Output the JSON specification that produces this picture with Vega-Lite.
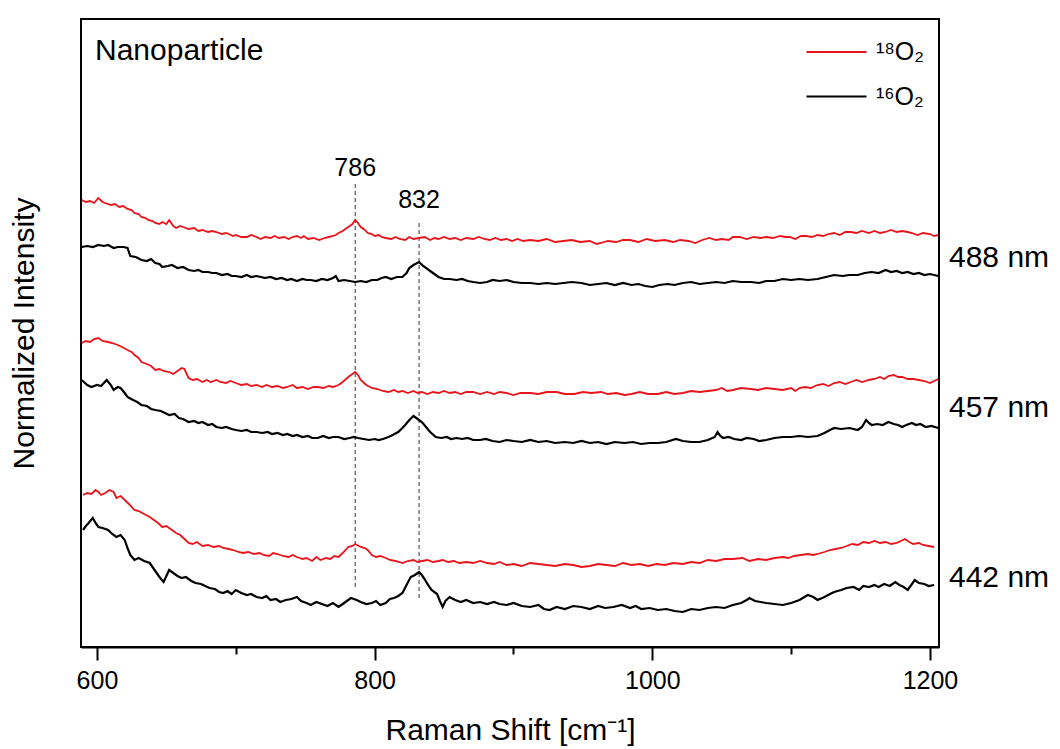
{
  "$schema": "https://vega.github.io/schema/vega-lite/v6.json",
  "width": 858,
  "height": 628,
  "autosize": {"type": "none"},
  "padding": {"left": 81, "top": 19, "right": 121, "bottom": 102},
  "background": "white",
  "config": {
    "view": {"stroke": "black", "strokeWidth": 2},
    "font": "Liberation Sans",
    "axis": {"grid": false, "labelColor": "black", "titleColor": "black", "titleFontWeight": "normal", "labelFont": "Liberation Sans", "titleFont": "Liberation Sans"}
  },
  "datasets": {
    "spectra": [
{"w":589,"v":447,"gas":"18O2","laser":"488"},{"w":592,"v":445,"gas":"18O2","laser":"488"},{"w":595,"v":446,"gas":"18O2","laser":"488"},{"w":598,"v":444,"gas":"18O2","laser":"488"},{"w":601,"v":449,"gas":"18O2","laser":"488"},{"w":604,"v":445,"gas":"18O2","laser":"488"},{"w":606,"v":444,"gas":"18O2","laser":"488"},{"w":610,"v":442,"gas":"18O2","laser":"488"},{"w":613,"v":443,"gas":"18O2","laser":"488"},{"w":616,"v":440,"gas":"18O2","laser":"488"},{"w":619,"v":441,"gas":"18O2","laser":"488"},{"w":622,"v":438,"gas":"18O2","laser":"488"},{"w":625,"v":437,"gas":"18O2","laser":"488"},{"w":627,"v":434,"gas":"18O2","laser":"488"},{"w":630,"v":433,"gas":"18O2","laser":"488"},{"w":632,"v":430,"gas":"18O2","laser":"488"},{"w":635,"v":429,"gas":"18O2","laser":"488"},{"w":637,"v":427,"gas":"18O2","laser":"488"},{"w":640,"v":426,"gas":"18O2","laser":"488"},{"w":642,"v":424,"gas":"18O2","laser":"488"},{"w":645,"v":423,"gas":"18O2","laser":"488"},{"w":647,"v":425,"gas":"18O2","laser":"488"},{"w":650,"v":423,"gas":"18O2","laser":"488"},{"w":652,"v":427,"gas":"18O2","laser":"488"},{"w":655,"v":421,"gas":"18O2","laser":"488"},{"w":657,"v":419,"gas":"18O2","laser":"488"},{"w":660,"v":421,"gas":"18O2","laser":"488"},{"w":662,"v":420,"gas":"18O2","laser":"488"},{"w":666,"v":418,"gas":"18O2","laser":"488"},{"w":670,"v":419,"gas":"18O2","laser":"488"},{"w":673,"v":416,"gas":"18O2","laser":"488"},{"w":676,"v":417,"gas":"18O2","laser":"488"},{"w":680,"v":415,"gas":"18O2","laser":"488"},{"w":683,"v":416,"gas":"18O2","laser":"488"},{"w":686,"v":415,"gas":"18O2","laser":"488"},{"w":690,"v":413,"gas":"18O2","laser":"488"},{"w":693,"v":414,"gas":"18O2","laser":"488"},{"w":695,"v":413,"gas":"18O2","laser":"488"},{"w":698,"v":411,"gas":"18O2","laser":"488"},{"w":700,"v":412,"gas":"18O2","laser":"488"},{"w":704,"v":410,"gas":"18O2","laser":"488"},{"w":708,"v":410,"gas":"18O2","laser":"488"},{"w":711,"v":412,"gas":"18O2","laser":"488"},{"w":715,"v":410,"gas":"18O2","laser":"488"},{"w":718,"v":408,"gas":"18O2","laser":"488"},{"w":721,"v":410,"gas":"18O2","laser":"488"},{"w":725,"v":409,"gas":"18O2","laser":"488"},{"w":728,"v":411,"gas":"18O2","laser":"488"},{"w":731,"v":409,"gas":"18O2","laser":"488"},{"w":735,"v":410,"gas":"18O2","laser":"488"},{"w":738,"v":408,"gas":"18O2","laser":"488"},{"w":741,"v":410,"gas":"18O2","laser":"488"},{"w":744,"v":411,"gas":"18O2","laser":"488"},{"w":747,"v":409,"gas":"18O2","laser":"488"},{"w":749,"v":411,"gas":"18O2","laser":"488"},{"w":752,"v":408,"gas":"18O2","laser":"488"},{"w":756,"v":409,"gas":"18O2","laser":"488"},{"w":760,"v":407,"gas":"18O2","laser":"488"},{"w":764,"v":409,"gas":"18O2","laser":"488"},{"w":767,"v":410,"gas":"18O2","laser":"488"},{"w":770,"v":411,"gas":"18O2","laser":"488"},{"w":772,"v":412,"gas":"18O2","laser":"488"},{"w":774,"v":414,"gas":"18O2","laser":"488"},{"w":777,"v":416,"gas":"18O2","laser":"488"},{"w":781,"v":420,"gas":"18O2","laser":"488"},{"w":784,"v":423,"gas":"18O2","laser":"488"},{"w":786,"v":427,"gas":"18O2","laser":"488"},{"w":788,"v":424,"gas":"18O2","laser":"488"},{"w":790,"v":420,"gas":"18O2","laser":"488"},{"w":793,"v":417,"gas":"18O2","laser":"488"},{"w":795,"v":414,"gas":"18O2","laser":"488"},{"w":798,"v":413,"gas":"18O2","laser":"488"},{"w":800,"v":411,"gas":"18O2","laser":"488"},{"w":803,"v":412,"gas":"18O2","laser":"488"},{"w":805,"v":410,"gas":"18O2","laser":"488"},{"w":808,"v":409,"gas":"18O2","laser":"488"},{"w":812,"v":408,"gas":"18O2","laser":"488"},{"w":815,"v":410,"gas":"18O2","laser":"488"},{"w":818,"v":408,"gas":"18O2","laser":"488"},{"w":822,"v":407,"gas":"18O2","laser":"488"},{"w":825,"v":410,"gas":"18O2","laser":"488"},{"w":828,"v":408,"gas":"18O2","laser":"488"},{"w":832,"v":409,"gas":"18O2","laser":"488"},{"w":836,"v":410,"gas":"18O2","laser":"488"},{"w":840,"v":407,"gas":"18O2","laser":"488"},{"w":843,"v":409,"gas":"18O2","laser":"488"},{"w":846,"v":408,"gas":"18O2","laser":"488"},{"w":850,"v":410,"gas":"18O2","laser":"488"},{"w":854,"v":408,"gas":"18O2","laser":"488"},{"w":858,"v":409,"gas":"18O2","laser":"488"},{"w":862,"v":407,"gas":"18O2","laser":"488"},{"w":866,"v":409,"gas":"18O2","laser":"488"},{"w":871,"v":408,"gas":"18O2","laser":"488"},{"w":875,"v":410,"gas":"18O2","laser":"488"},{"w":879,"v":408,"gas":"18O2","laser":"488"},{"w":883,"v":407,"gas":"18O2","laser":"488"},{"w":887,"v":409,"gas":"18O2","laser":"488"},{"w":891,"v":407,"gas":"18O2","laser":"488"},{"w":895,"v":408,"gas":"18O2","laser":"488"},{"w":899,"v":406,"gas":"18O2","laser":"488"},{"w":903,"v":408,"gas":"18O2","laser":"488"},{"w":907,"v":406,"gas":"18O2","laser":"488"},{"w":912,"v":407,"gas":"18O2","laser":"488"},{"w":918,"v":406,"gas":"18O2","laser":"488"},{"w":924,"v":408,"gas":"18O2","laser":"488"},{"w":930,"v":405,"gas":"18O2","laser":"488"},{"w":936,"v":406,"gas":"18O2","laser":"488"},{"w":942,"v":407,"gas":"18O2","laser":"488"},{"w":948,"v":405,"gas":"18O2","laser":"488"},{"w":955,"v":406,"gas":"18O2","laser":"488"},{"w":960,"v":403,"gas":"18O2","laser":"488"},{"w":963,"v":404,"gas":"18O2","laser":"488"},{"w":968,"v":406,"gas":"18O2","laser":"488"},{"w":974,"v":405,"gas":"18O2","laser":"488"},{"w":979,"v":407,"gas":"18O2","laser":"488"},{"w":984,"v":407,"gas":"18O2","laser":"488"},{"w":990,"v":405,"gas":"18O2","laser":"488"},{"w":996,"v":408,"gas":"18O2","laser":"488"},{"w":1002,"v":406,"gas":"18O2","laser":"488"},{"w":1009,"v":407,"gas":"18O2","laser":"488"},{"w":1015,"v":405,"gas":"18O2","laser":"488"},{"w":1020,"v":407,"gas":"18O2","laser":"488"},{"w":1026,"v":406,"gas":"18O2","laser":"488"},{"w":1031,"v":404,"gas":"18O2","laser":"488"},{"w":1036,"v":407,"gas":"18O2","laser":"488"},{"w":1041,"v":409,"gas":"18O2","laser":"488"},{"w":1046,"v":407,"gas":"18O2","laser":"488"},{"w":1050,"v":408,"gas":"18O2","laser":"488"},{"w":1055,"v":407,"gas":"18O2","laser":"488"},{"w":1058,"v":410,"gas":"18O2","laser":"488"},{"w":1063,"v":410,"gas":"18O2","laser":"488"},{"w":1068,"v":408,"gas":"18O2","laser":"488"},{"w":1073,"v":410,"gas":"18O2","laser":"488"},{"w":1078,"v":409,"gas":"18O2","laser":"488"},{"w":1082,"v":410,"gas":"18O2","laser":"488"},{"w":1087,"v":409,"gas":"18O2","laser":"488"},{"w":1092,"v":411,"gas":"18O2","laser":"488"},{"w":1096,"v":410,"gas":"18O2","laser":"488"},{"w":1099,"v":410,"gas":"18O2","laser":"488"},{"w":1103,"v":408,"gas":"18O2","laser":"488"},{"w":1107,"v":411,"gas":"18O2","laser":"488"},{"w":1111,"v":411,"gas":"18O2","laser":"488"},{"w":1115,"v":410,"gas":"18O2","laser":"488"},{"w":1119,"v":412,"gas":"18O2","laser":"488"},{"w":1123,"v":411,"gas":"18O2","laser":"488"},{"w":1127,"v":413,"gas":"18O2","laser":"488"},{"w":1131,"v":414,"gas":"18O2","laser":"488"},{"w":1135,"v":412,"gas":"18O2","laser":"488"},{"w":1139,"v":415,"gas":"18O2","laser":"488"},{"w":1143,"v":415,"gas":"18O2","laser":"488"},{"w":1147,"v":414,"gas":"18O2","laser":"488"},{"w":1151,"v":416,"gas":"18O2","laser":"488"},{"w":1156,"v":414,"gas":"18O2","laser":"488"},{"w":1160,"v":416,"gas":"18O2","laser":"488"},{"w":1164,"v":414,"gas":"18O2","laser":"488"},{"w":1168,"v":415,"gas":"18O2","laser":"488"},{"w":1172,"v":417,"gas":"18O2","laser":"488"},{"w":1176,"v":415,"gas":"18O2","laser":"488"},{"w":1180,"v":416,"gas":"18O2","laser":"488"},{"w":1184,"v":415,"gas":"18O2","laser":"488"},{"w":1187,"v":414,"gas":"18O2","laser":"488"},{"w":1191,"v":412,"gas":"18O2","laser":"488"},{"w":1195,"v":414,"gas":"18O2","laser":"488"},{"w":1200,"v":413,"gas":"18O2","laser":"488"},{"w":1203,"v":411,"gas":"18O2","laser":"488"},{"w":1206,"v":412,"gas":"18O2","laser":"488"},
{"w":589,"v":400,"gas":"16O2","laser":"488"},{"w":593,"v":401,"gas":"16O2","laser":"488"},{"w":597,"v":400,"gas":"16O2","laser":"488"},{"w":601,"v":402,"gas":"16O2","laser":"488"},{"w":605,"v":401,"gas":"16O2","laser":"488"},{"w":608,"v":402,"gas":"16O2","laser":"488"},{"w":612,"v":399,"gas":"16O2","laser":"488"},{"w":615,"v":400,"gas":"16O2","laser":"488"},{"w":619,"v":400,"gas":"16O2","laser":"488"},{"w":622,"v":399,"gas":"16O2","laser":"488"},{"w":624,"v":391,"gas":"16O2","laser":"488"},{"w":628,"v":390,"gas":"16O2","laser":"488"},{"w":632,"v":387,"gas":"16O2","laser":"488"},{"w":636,"v":386,"gas":"16O2","laser":"488"},{"w":639,"v":388,"gas":"16O2","laser":"488"},{"w":642,"v":384,"gas":"16O2","laser":"488"},{"w":645,"v":383,"gas":"16O2","laser":"488"},{"w":647,"v":380,"gas":"16O2","laser":"488"},{"w":651,"v":381,"gas":"16O2","laser":"488"},{"w":654,"v":382,"gas":"16O2","laser":"488"},{"w":658,"v":379,"gas":"16O2","laser":"488"},{"w":662,"v":380,"gas":"16O2","laser":"488"},{"w":666,"v":377,"gas":"16O2","laser":"488"},{"w":670,"v":376,"gas":"16O2","laser":"488"},{"w":673,"v":377,"gas":"16O2","laser":"488"},{"w":676,"v":375,"gas":"16O2","laser":"488"},{"w":680,"v":375,"gas":"16O2","laser":"488"},{"w":683,"v":374,"gas":"16O2","laser":"488"},{"w":686,"v":374,"gas":"16O2","laser":"488"},{"w":690,"v":372,"gas":"16O2","laser":"488"},{"w":694,"v":373,"gas":"16O2","laser":"488"},{"w":697,"v":371,"gas":"16O2","laser":"488"},{"w":700,"v":371,"gas":"16O2","laser":"488"},{"w":704,"v":370,"gas":"16O2","laser":"488"},{"w":708,"v":372,"gas":"16O2","laser":"488"},{"w":711,"v":370,"gas":"16O2","laser":"488"},{"w":715,"v":371,"gas":"16O2","laser":"488"},{"w":718,"v":370,"gas":"16O2","laser":"488"},{"w":721,"v":369,"gas":"16O2","laser":"488"},{"w":725,"v":370,"gas":"16O2","laser":"488"},{"w":729,"v":368,"gas":"16O2","laser":"488"},{"w":733,"v":369,"gas":"16O2","laser":"488"},{"w":737,"v":367,"gas":"16O2","laser":"488"},{"w":740,"v":368,"gas":"16O2","laser":"488"},{"w":744,"v":366,"gas":"16O2","laser":"488"},{"w":748,"v":368,"gas":"16O2","laser":"488"},{"w":751,"v":367,"gas":"16O2","laser":"488"},{"w":754,"v":367,"gas":"16O2","laser":"488"},{"w":758,"v":366,"gas":"16O2","laser":"488"},{"w":762,"v":368,"gas":"16O2","laser":"488"},{"w":766,"v":367,"gas":"16O2","laser":"488"},{"w":770,"v":369,"gas":"16O2","laser":"488"},{"w":772,"v":371,"gas":"16O2","laser":"488"},{"w":774,"v":366,"gas":"16O2","laser":"488"},{"w":778,"v":367,"gas":"16O2","laser":"488"},{"w":782,"v":366,"gas":"16O2","laser":"488"},{"w":786,"v":365,"gas":"16O2","laser":"488"},{"w":790,"v":366,"gas":"16O2","laser":"488"},{"w":794,"v":365,"gas":"16O2","laser":"488"},{"w":798,"v":367,"gas":"16O2","laser":"488"},{"w":802,"v":367,"gas":"16O2","laser":"488"},{"w":805,"v":369,"gas":"16O2","laser":"488"},{"w":808,"v":370,"gas":"16O2","laser":"488"},{"w":812,"v":368,"gas":"16O2","laser":"488"},{"w":816,"v":370,"gas":"16O2","laser":"488"},{"w":820,"v":370,"gas":"16O2","laser":"488"},{"w":823,"v":374,"gas":"16O2","laser":"488"},{"w":825,"v":379,"gas":"16O2","laser":"488"},{"w":828,"v":382,"gas":"16O2","laser":"488"},{"w":832,"v":385,"gas":"16O2","laser":"488"},{"w":835,"v":381,"gas":"16O2","laser":"488"},{"w":839,"v":377,"gas":"16O2","laser":"488"},{"w":842,"v":374,"gas":"16O2","laser":"488"},{"w":846,"v":370,"gas":"16O2","laser":"488"},{"w":850,"v":368,"gas":"16O2","laser":"488"},{"w":854,"v":368,"gas":"16O2","laser":"488"},{"w":859,"v":367,"gas":"16O2","laser":"488"},{"w":863,"v":368,"gas":"16O2","laser":"488"},{"w":867,"v":366,"gas":"16O2","laser":"488"},{"w":871,"v":365,"gas":"16O2","laser":"488"},{"w":876,"v":364,"gas":"16O2","laser":"488"},{"w":881,"v":365,"gas":"16O2","laser":"488"},{"w":885,"v":367,"gas":"16O2","laser":"488"},{"w":890,"v":366,"gas":"16O2","laser":"488"},{"w":895,"v":367,"gas":"16O2","laser":"488"},{"w":900,"v":365,"gas":"16O2","laser":"488"},{"w":906,"v":364,"gas":"16O2","laser":"488"},{"w":912,"v":364,"gas":"16O2","laser":"488"},{"w":918,"v":363,"gas":"16O2","laser":"488"},{"w":924,"v":364,"gas":"16O2","laser":"488"},{"w":930,"v":363,"gas":"16O2","laser":"488"},{"w":936,"v":364,"gas":"16O2","laser":"488"},{"w":942,"v":365,"gas":"16O2","laser":"488"},{"w":949,"v":364,"gas":"16O2","laser":"488"},{"w":955,"v":362,"gas":"16O2","laser":"488"},{"w":961,"v":363,"gas":"16O2","laser":"488"},{"w":967,"v":364,"gas":"16O2","laser":"488"},{"w":973,"v":362,"gas":"16O2","laser":"488"},{"w":979,"v":364,"gas":"16O2","laser":"488"},{"w":985,"v":362,"gas":"16O2","laser":"488"},{"w":990,"v":363,"gas":"16O2","laser":"488"},{"w":995,"v":361,"gas":"16O2","laser":"488"},{"w":1000,"v":360,"gas":"16O2","laser":"488"},{"w":1005,"v":362,"gas":"16O2","laser":"488"},{"w":1011,"v":363,"gas":"16O2","laser":"488"},{"w":1016,"v":362,"gas":"16O2","laser":"488"},{"w":1022,"v":364,"gas":"16O2","laser":"488"},{"w":1028,"v":365,"gas":"16O2","laser":"488"},{"w":1034,"v":363,"gas":"16O2","laser":"488"},{"w":1040,"v":364,"gas":"16O2","laser":"488"},{"w":1046,"v":365,"gas":"16O2","laser":"488"},{"w":1052,"v":364,"gas":"16O2","laser":"488"},{"w":1058,"v":366,"gas":"16O2","laser":"488"},{"w":1064,"v":365,"gas":"16O2","laser":"488"},{"w":1071,"v":365,"gas":"16O2","laser":"488"},{"w":1077,"v":364,"gas":"16O2","laser":"488"},{"w":1082,"v":366,"gas":"16O2","laser":"488"},{"w":1088,"v":366,"gas":"16O2","laser":"488"},{"w":1094,"v":368,"gas":"16O2","laser":"488"},{"w":1100,"v":367,"gas":"16O2","laser":"488"},{"w":1106,"v":368,"gas":"16O2","laser":"488"},{"w":1112,"v":367,"gas":"16O2","laser":"488"},{"w":1119,"v":368,"gas":"16O2","laser":"488"},{"w":1125,"v":370,"gas":"16O2","laser":"488"},{"w":1131,"v":372,"gas":"16O2","laser":"488"},{"w":1137,"v":371,"gas":"16O2","laser":"488"},{"w":1142,"v":372,"gas":"16O2","laser":"488"},{"w":1148,"v":372,"gas":"16O2","laser":"488"},{"w":1153,"v":374,"gas":"16O2","laser":"488"},{"w":1158,"v":375,"gas":"16O2","laser":"488"},{"w":1163,"v":374,"gas":"16O2","laser":"488"},{"w":1168,"v":377,"gas":"16O2","laser":"488"},{"w":1172,"v":375,"gas":"16O2","laser":"488"},{"w":1176,"v":376,"gas":"16O2","laser":"488"},{"w":1180,"v":374,"gas":"16O2","laser":"488"},{"w":1184,"v":375,"gas":"16O2","laser":"488"},{"w":1188,"v":373,"gas":"16O2","laser":"488"},{"w":1192,"v":374,"gas":"16O2","laser":"488"},{"w":1196,"v":372,"gas":"16O2","laser":"488"},{"w":1200,"v":373,"gas":"16O2","laser":"488"},{"w":1206,"v":371,"gas":"16O2","laser":"488"},
{"w":589,"v":304,"gas":"18O2","laser":"457"},{"w":592,"v":306,"gas":"18O2","laser":"457"},{"w":595,"v":305,"gas":"18O2","laser":"457"},{"w":598,"v":308,"gas":"18O2","laser":"457"},{"w":601,"v":309,"gas":"18O2","laser":"457"},{"w":604,"v":306,"gas":"18O2","laser":"457"},{"w":608,"v":305,"gas":"18O2","laser":"457"},{"w":611,"v":304,"gas":"18O2","laser":"457"},{"w":615,"v":302,"gas":"18O2","laser":"457"},{"w":618,"v":300,"gas":"18O2","laser":"457"},{"w":622,"v":297,"gas":"18O2","laser":"457"},{"w":625,"v":295,"gas":"18O2","laser":"457"},{"w":627,"v":292,"gas":"18O2","laser":"457"},{"w":630,"v":289,"gas":"18O2","laser":"457"},{"w":632,"v":285,"gas":"18O2","laser":"457"},{"w":636,"v":283,"gas":"18O2","laser":"457"},{"w":639,"v":281,"gas":"18O2","laser":"457"},{"w":642,"v":277,"gas":"18O2","laser":"457"},{"w":645,"v":278,"gas":"18O2","laser":"457"},{"w":648,"v":276,"gas":"18O2","laser":"457"},{"w":652,"v":275,"gas":"18O2","laser":"457"},{"w":655,"v":273,"gas":"18O2","laser":"457"},{"w":658,"v":276,"gas":"18O2","laser":"457"},{"w":661,"v":279,"gas":"18O2","laser":"457"},{"w":663,"v":278,"gas":"18O2","laser":"457"},{"w":666,"v":269,"gas":"18O2","laser":"457"},{"w":669,"v":267,"gas":"18O2","laser":"457"},{"w":672,"v":268,"gas":"18O2","laser":"457"},{"w":676,"v":265,"gas":"18O2","laser":"457"},{"w":679,"v":267,"gas":"18O2","laser":"457"},{"w":682,"v":265,"gas":"18O2","laser":"457"},{"w":686,"v":267,"gas":"18O2","laser":"457"},{"w":689,"v":265,"gas":"18O2","laser":"457"},{"w":693,"v":264,"gas":"18O2","laser":"457"},{"w":696,"v":266,"gas":"18O2","laser":"457"},{"w":700,"v":264,"gas":"18O2","laser":"457"},{"w":704,"v":262,"gas":"18O2","laser":"457"},{"w":708,"v":263,"gas":"18O2","laser":"457"},{"w":711,"v":261,"gas":"18O2","laser":"457"},{"w":715,"v":262,"gas":"18O2","laser":"457"},{"w":719,"v":260,"gas":"18O2","laser":"457"},{"w":722,"v":262,"gas":"18O2","laser":"457"},{"w":726,"v":260,"gas":"18O2","laser":"457"},{"w":730,"v":261,"gas":"18O2","laser":"457"},{"w":734,"v":259,"gas":"18O2","laser":"457"},{"w":737,"v":260,"gas":"18O2","laser":"457"},{"w":741,"v":262,"gas":"18O2","laser":"457"},{"w":744,"v":259,"gas":"18O2","laser":"457"},{"w":748,"v":260,"gas":"18O2","laser":"457"},{"w":752,"v":258,"gas":"18O2","laser":"457"},{"w":756,"v":260,"gas":"18O2","laser":"457"},{"w":759,"v":260,"gas":"18O2","laser":"457"},{"w":763,"v":259,"gas":"18O2","laser":"457"},{"w":767,"v":261,"gas":"18O2","laser":"457"},{"w":770,"v":260,"gas":"18O2","laser":"457"},{"w":774,"v":262,"gas":"18O2","laser":"457"},{"w":777,"v":265,"gas":"18O2","laser":"457"},{"w":781,"v":270,"gas":"18O2","laser":"457"},{"w":784,"v":273,"gas":"18O2","laser":"457"},{"w":786,"v":275,"gas":"18O2","laser":"457"},{"w":788,"v":272,"gas":"18O2","laser":"457"},{"w":790,"v":267,"gas":"18O2","laser":"457"},{"w":794,"v":262,"gas":"18O2","laser":"457"},{"w":798,"v":259,"gas":"18O2","laser":"457"},{"w":802,"v":258,"gas":"18O2","laser":"457"},{"w":806,"v":256,"gas":"18O2","laser":"457"},{"w":810,"v":255,"gas":"18O2","laser":"457"},{"w":814,"v":257,"gas":"18O2","laser":"457"},{"w":817,"v":255,"gas":"18O2","laser":"457"},{"w":820,"v":256,"gas":"18O2","laser":"457"},{"w":824,"v":254,"gas":"18O2","laser":"457"},{"w":828,"v":256,"gas":"18O2","laser":"457"},{"w":831,"v":254,"gas":"18O2","laser":"457"},{"w":834,"v":255,"gas":"18O2","laser":"457"},{"w":838,"v":253,"gas":"18O2","laser":"457"},{"w":842,"v":255,"gas":"18O2","laser":"457"},{"w":846,"v":254,"gas":"18O2","laser":"457"},{"w":850,"v":256,"gas":"18O2","laser":"457"},{"w":854,"v":254,"gas":"18O2","laser":"457"},{"w":858,"v":255,"gas":"18O2","laser":"457"},{"w":862,"v":253,"gas":"18O2","laser":"457"},{"w":866,"v":255,"gas":"18O2","laser":"457"},{"w":871,"v":255,"gas":"18O2","laser":"457"},{"w":876,"v":253,"gas":"18O2","laser":"457"},{"w":881,"v":255,"gas":"18O2","laser":"457"},{"w":886,"v":253,"gas":"18O2","laser":"457"},{"w":890,"v":255,"gas":"18O2","laser":"457"},{"w":895,"v":254,"gas":"18O2","laser":"457"},{"w":900,"v":252,"gas":"18O2","laser":"457"},{"w":905,"v":254,"gas":"18O2","laser":"457"},{"w":912,"v":254,"gas":"18O2","laser":"457"},{"w":918,"v":253,"gas":"18O2","laser":"457"},{"w":924,"v":255,"gas":"18O2","laser":"457"},{"w":931,"v":255,"gas":"18O2","laser":"457"},{"w":937,"v":253,"gas":"18O2","laser":"457"},{"w":944,"v":253,"gas":"18O2","laser":"457"},{"w":950,"v":255,"gas":"18O2","laser":"457"},{"w":956,"v":254,"gas":"18O2","laser":"457"},{"w":963,"v":255,"gas":"18O2","laser":"457"},{"w":968,"v":253,"gas":"18O2","laser":"457"},{"w":974,"v":254,"gas":"18O2","laser":"457"},{"w":980,"v":252,"gas":"18O2","laser":"457"},{"w":985,"v":253,"gas":"18O2","laser":"457"},{"w":991,"v":255,"gas":"18O2","laser":"457"},{"w":997,"v":253,"gas":"18O2","laser":"457"},{"w":1004,"v":253,"gas":"18O2","laser":"457"},{"w":1010,"v":255,"gas":"18O2","laser":"457"},{"w":1016,"v":253,"gas":"18O2","laser":"457"},{"w":1022,"v":254,"gas":"18O2","laser":"457"},{"w":1028,"v":256,"gas":"18O2","laser":"457"},{"w":1034,"v":255,"gas":"18O2","laser":"457"},{"w":1040,"v":256,"gas":"18O2","laser":"457"},{"w":1046,"v":257,"gas":"18O2","laser":"457"},{"w":1050,"v":259,"gas":"18O2","laser":"457"},{"w":1054,"v":256,"gas":"18O2","laser":"457"},{"w":1058,"v":257,"gas":"18O2","laser":"457"},{"w":1064,"v":259,"gas":"18O2","laser":"457"},{"w":1071,"v":258,"gas":"18O2","laser":"457"},{"w":1076,"v":257,"gas":"18O2","laser":"457"},{"w":1082,"v":259,"gas":"18O2","laser":"457"},{"w":1088,"v":258,"gas":"18O2","laser":"457"},{"w":1094,"v":257,"gas":"18O2","laser":"457"},{"w":1100,"v":259,"gas":"18O2","laser":"457"},{"w":1103,"v":256,"gas":"18O2","laser":"457"},{"w":1106,"v":259,"gas":"18O2","laser":"457"},{"w":1110,"v":260,"gas":"18O2","laser":"457"},{"w":1114,"v":259,"gas":"18O2","laser":"457"},{"w":1119,"v":262,"gas":"18O2","laser":"457"},{"w":1123,"v":263,"gas":"18O2","laser":"457"},{"w":1127,"v":261,"gas":"18O2","laser":"457"},{"w":1131,"v":264,"gas":"18O2","laser":"457"},{"w":1135,"v":265,"gas":"18O2","laser":"457"},{"w":1139,"v":263,"gas":"18O2","laser":"457"},{"w":1143,"v":265,"gas":"18O2","laser":"457"},{"w":1147,"v":267,"gas":"18O2","laser":"457"},{"w":1151,"v":265,"gas":"18O2","laser":"457"},{"w":1156,"v":267,"gas":"18O2","laser":"457"},{"w":1160,"v":268,"gas":"18O2","laser":"457"},{"w":1164,"v":270,"gas":"18O2","laser":"457"},{"w":1167,"v":268,"gas":"18O2","laser":"457"},{"w":1170,"v":271,"gas":"18O2","laser":"457"},{"w":1174,"v":272,"gas":"18O2","laser":"457"},{"w":1177,"v":270,"gas":"18O2","laser":"457"},{"w":1180,"v":270,"gas":"18O2","laser":"457"},{"w":1184,"v":268,"gas":"18O2","laser":"457"},{"w":1188,"v":268,"gas":"18O2","laser":"457"},{"w":1192,"v":267,"gas":"18O2","laser":"457"},{"w":1196,"v":266,"gas":"18O2","laser":"457"},{"w":1200,"v":264,"gas":"18O2","laser":"457"},{"w":1203,"v":266,"gas":"18O2","laser":"457"},{"w":1206,"v":268,"gas":"18O2","laser":"457"},
{"w":589,"v":267,"gas":"16O2","laser":"457"},{"w":593,"v":262,"gas":"16O2","laser":"457"},{"w":596,"v":260,"gas":"16O2","laser":"457"},{"w":600,"v":262,"gas":"16O2","laser":"457"},{"w":603,"v":261,"gas":"16O2","laser":"457"},{"w":605,"v":264,"gas":"16O2","laser":"457"},{"w":607,"v":267,"gas":"16O2","laser":"457"},{"w":610,"v":262,"gas":"16O2","laser":"457"},{"w":612,"v":257,"gas":"16O2","laser":"457"},{"w":615,"v":260,"gas":"16O2","laser":"457"},{"w":617,"v":259,"gas":"16O2","laser":"457"},{"w":620,"v":254,"gas":"16O2","laser":"457"},{"w":622,"v":250,"gas":"16O2","laser":"457"},{"w":626,"v":247,"gas":"16O2","laser":"457"},{"w":629,"v":245,"gas":"16O2","laser":"457"},{"w":632,"v":242,"gas":"16O2","laser":"457"},{"w":636,"v":241,"gas":"16O2","laser":"457"},{"w":639,"v":238,"gas":"16O2","laser":"457"},{"w":642,"v":237,"gas":"16O2","laser":"457"},{"w":646,"v":236,"gas":"16O2","laser":"457"},{"w":649,"v":234,"gas":"16O2","laser":"457"},{"w":652,"v":232,"gas":"16O2","laser":"457"},{"w":656,"v":233,"gas":"16O2","laser":"457"},{"w":659,"v":229,"gas":"16O2","laser":"457"},{"w":662,"v":228,"gas":"16O2","laser":"457"},{"w":666,"v":225,"gas":"16O2","laser":"457"},{"w":670,"v":226,"gas":"16O2","laser":"457"},{"w":673,"v":224,"gas":"16O2","laser":"457"},{"w":676,"v":225,"gas":"16O2","laser":"457"},{"w":680,"v":222,"gas":"16O2","laser":"457"},{"w":683,"v":223,"gas":"16O2","laser":"457"},{"w":686,"v":220,"gas":"16O2","laser":"457"},{"w":690,"v":219,"gas":"16O2","laser":"457"},{"w":693,"v":220,"gas":"16O2","laser":"457"},{"w":697,"v":218,"gas":"16O2","laser":"457"},{"w":700,"v":217,"gas":"16O2","laser":"457"},{"w":704,"v":216,"gas":"16O2","laser":"457"},{"w":708,"v":217,"gas":"16O2","laser":"457"},{"w":711,"v":215,"gas":"16O2","laser":"457"},{"w":715,"v":215,"gas":"16O2","laser":"457"},{"w":719,"v":214,"gas":"16O2","laser":"457"},{"w":723,"v":215,"gas":"16O2","laser":"457"},{"w":726,"v":213,"gas":"16O2","laser":"457"},{"w":730,"v":214,"gas":"16O2","laser":"457"},{"w":734,"v":212,"gas":"16O2","laser":"457"},{"w":737,"v":213,"gas":"16O2","laser":"457"},{"w":741,"v":211,"gas":"16O2","laser":"457"},{"w":744,"v":212,"gas":"16O2","laser":"457"},{"w":748,"v":210,"gas":"16O2","laser":"457"},{"w":752,"v":211,"gas":"16O2","laser":"457"},{"w":755,"v":209,"gas":"16O2","laser":"457"},{"w":759,"v":209,"gas":"16O2","laser":"457"},{"w":763,"v":211,"gas":"16O2","laser":"457"},{"w":767,"v":209,"gas":"16O2","laser":"457"},{"w":770,"v":210,"gas":"16O2","laser":"457"},{"w":774,"v":210,"gas":"16O2","laser":"457"},{"w":778,"v":208,"gas":"16O2","laser":"457"},{"w":782,"v":209,"gas":"16O2","laser":"457"},{"w":785,"v":210,"gas":"16O2","laser":"457"},{"w":788,"v":209,"gas":"16O2","laser":"457"},{"w":792,"v":208,"gas":"16O2","laser":"457"},{"w":796,"v":207,"gas":"16O2","laser":"457"},{"w":800,"v":208,"gas":"16O2","laser":"457"},{"w":803,"v":207,"gas":"16O2","laser":"457"},{"w":806,"v":208,"gas":"16O2","laser":"457"},{"w":810,"v":210,"gas":"16O2","laser":"457"},{"w":813,"v":212,"gas":"16O2","laser":"457"},{"w":817,"v":215,"gas":"16O2","laser":"457"},{"w":820,"v":219,"gas":"16O2","laser":"457"},{"w":822,"v":222,"gas":"16O2","laser":"457"},{"w":825,"v":227,"gas":"16O2","laser":"457"},{"w":828,"v":231,"gas":"16O2","laser":"457"},{"w":831,"v":228,"gas":"16O2","laser":"457"},{"w":834,"v":225,"gas":"16O2","laser":"457"},{"w":837,"v":220,"gas":"16O2","laser":"457"},{"w":840,"v":215,"gas":"16O2","laser":"457"},{"w":844,"v":210,"gas":"16O2","laser":"457"},{"w":848,"v":209,"gas":"16O2","laser":"457"},{"w":852,"v":210,"gas":"16O2","laser":"457"},{"w":855,"v":208,"gas":"16O2","laser":"457"},{"w":859,"v":209,"gas":"16O2","laser":"457"},{"w":863,"v":208,"gas":"16O2","laser":"457"},{"w":867,"v":209,"gas":"16O2","laser":"457"},{"w":871,"v":207,"gas":"16O2","laser":"457"},{"w":876,"v":207,"gas":"16O2","laser":"457"},{"w":880,"v":208,"gas":"16O2","laser":"457"},{"w":885,"v":206,"gas":"16O2","laser":"457"},{"w":890,"v":205,"gas":"16O2","laser":"457"},{"w":895,"v":207,"gas":"16O2","laser":"457"},{"w":900,"v":206,"gas":"16O2","laser":"457"},{"w":906,"v":205,"gas":"16O2","laser":"457"},{"w":912,"v":207,"gas":"16O2","laser":"457"},{"w":918,"v":205,"gas":"16O2","laser":"457"},{"w":924,"v":206,"gas":"16O2","laser":"457"},{"w":930,"v":204,"gas":"16O2","laser":"457"},{"w":937,"v":205,"gas":"16O2","laser":"457"},{"w":943,"v":204,"gas":"16O2","laser":"457"},{"w":949,"v":206,"gas":"16O2","laser":"457"},{"w":955,"v":204,"gas":"16O2","laser":"457"},{"w":961,"v":205,"gas":"16O2","laser":"457"},{"w":967,"v":203,"gas":"16O2","laser":"457"},{"w":973,"v":205,"gas":"16O2","laser":"457"},{"w":980,"v":204,"gas":"16O2","laser":"457"},{"w":986,"v":205,"gas":"16O2","laser":"457"},{"w":992,"v":203,"gas":"16O2","laser":"457"},{"w":998,"v":204,"gas":"16O2","laser":"457"},{"w":1004,"v":204,"gas":"16O2","laser":"457"},{"w":1010,"v":205,"gas":"16O2","laser":"457"},{"w":1017,"v":208,"gas":"16O2","laser":"457"},{"w":1022,"v":206,"gas":"16O2","laser":"457"},{"w":1028,"v":205,"gas":"16O2","laser":"457"},{"w":1034,"v":205,"gas":"16O2","laser":"457"},{"w":1040,"v":207,"gas":"16O2","laser":"457"},{"w":1045,"v":210,"gas":"16O2","laser":"457"},{"w":1047,"v":215,"gas":"16O2","laser":"457"},{"w":1049,"v":211,"gas":"16O2","laser":"457"},{"w":1051,"v":209,"gas":"16O2","laser":"457"},{"w":1055,"v":210,"gas":"16O2","laser":"457"},{"w":1059,"v":208,"gas":"16O2","laser":"457"},{"w":1064,"v":207,"gas":"16O2","laser":"457"},{"w":1068,"v":209,"gas":"16O2","laser":"457"},{"w":1073,"v":208,"gas":"16O2","laser":"457"},{"w":1077,"v":206,"gas":"16O2","laser":"457"},{"w":1082,"v":207,"gas":"16O2","laser":"457"},{"w":1088,"v":209,"gas":"16O2","laser":"457"},{"w":1094,"v":210,"gas":"16O2","laser":"457"},{"w":1100,"v":210,"gas":"16O2","laser":"457"},{"w":1106,"v":211,"gas":"16O2","laser":"457"},{"w":1112,"v":210,"gas":"16O2","laser":"457"},{"w":1119,"v":211,"gas":"16O2","laser":"457"},{"w":1124,"v":214,"gas":"16O2","laser":"457"},{"w":1128,"v":217,"gas":"16O2","laser":"457"},{"w":1131,"v":219,"gas":"16O2","laser":"457"},{"w":1136,"v":218,"gas":"16O2","laser":"457"},{"w":1142,"v":219,"gas":"16O2","laser":"457"},{"w":1148,"v":217,"gas":"16O2","laser":"457"},{"w":1151,"v":220,"gas":"16O2","laser":"457"},{"w":1154,"v":227,"gas":"16O2","laser":"457"},{"w":1156,"v":224,"gas":"16O2","laser":"457"},{"w":1158,"v":222,"gas":"16O2","laser":"457"},{"w":1162,"v":223,"gas":"16O2","laser":"457"},{"w":1166,"v":222,"gas":"16O2","laser":"457"},{"w":1170,"v":225,"gas":"16O2","laser":"457"},{"w":1174,"v":223,"gas":"16O2","laser":"457"},{"w":1177,"v":222,"gas":"16O2","laser":"457"},{"w":1180,"v":220,"gas":"16O2","laser":"457"},{"w":1183,"v":222,"gas":"16O2","laser":"457"},{"w":1187,"v":224,"gas":"16O2","laser":"457"},{"w":1190,"v":222,"gas":"16O2","laser":"457"},{"w":1193,"v":223,"gas":"16O2","laser":"457"},{"w":1197,"v":220,"gas":"16O2","laser":"457"},{"w":1201,"v":221,"gas":"16O2","laser":"457"},{"w":1206,"v":219,"gas":"16O2","laser":"457"},
{"w":590,"v":152,"gas":"18O2","laser":"442"},{"w":593,"v":154,"gas":"18O2","laser":"442"},{"w":596,"v":153,"gas":"18O2","laser":"442"},{"w":599,"v":157,"gas":"18O2","laser":"442"},{"w":601,"v":155,"gas":"18O2","laser":"442"},{"w":603,"v":152,"gas":"18O2","laser":"442"},{"w":606,"v":154,"gas":"18O2","laser":"442"},{"w":609,"v":157,"gas":"18O2","laser":"442"},{"w":612,"v":155,"gas":"18O2","laser":"442"},{"w":614,"v":149,"gas":"18O2","laser":"442"},{"w":617,"v":151,"gas":"18O2","laser":"442"},{"w":620,"v":147,"gas":"18O2","laser":"442"},{"w":623,"v":143,"gas":"18O2","laser":"442"},{"w":627,"v":137,"gas":"18O2","laser":"442"},{"w":630,"v":136,"gas":"18O2","laser":"442"},{"w":634,"v":133,"gas":"18O2","laser":"442"},{"w":638,"v":130,"gas":"18O2","laser":"442"},{"w":641,"v":127,"gas":"18O2","laser":"442"},{"w":644,"v":124,"gas":"18O2","laser":"442"},{"w":647,"v":120,"gas":"18O2","laser":"442"},{"w":650,"v":121,"gas":"18O2","laser":"442"},{"w":654,"v":117,"gas":"18O2","laser":"442"},{"w":657,"v":114,"gas":"18O2","laser":"442"},{"w":660,"v":112,"gas":"18O2","laser":"442"},{"w":663,"v":108,"gas":"18O2","laser":"442"},{"w":666,"v":104,"gas":"18O2","laser":"442"},{"w":669,"v":103,"gas":"18O2","laser":"442"},{"w":672,"v":105,"gas":"18O2","laser":"442"},{"w":676,"v":101,"gas":"18O2","laser":"442"},{"w":680,"v":102,"gas":"18O2","laser":"442"},{"w":684,"v":100,"gas":"18O2","laser":"442"},{"w":688,"v":101,"gas":"18O2","laser":"442"},{"w":691,"v":99,"gas":"18O2","laser":"442"},{"w":695,"v":98,"gas":"18O2","laser":"442"},{"w":698,"v":97,"gas":"18O2","laser":"442"},{"w":702,"v":95,"gas":"18O2","laser":"442"},{"w":705,"v":94,"gas":"18O2","laser":"442"},{"w":709,"v":95,"gas":"18O2","laser":"442"},{"w":713,"v":93,"gas":"18O2","laser":"442"},{"w":717,"v":94,"gas":"18O2","laser":"442"},{"w":720,"v":92,"gas":"18O2","laser":"442"},{"w":724,"v":91,"gas":"18O2","laser":"442"},{"w":727,"v":94,"gas":"18O2","laser":"442"},{"w":730,"v":93,"gas":"18O2","laser":"442"},{"w":734,"v":91,"gas":"18O2","laser":"442"},{"w":738,"v":90,"gas":"18O2","laser":"442"},{"w":741,"v":92,"gas":"18O2","laser":"442"},{"w":744,"v":90,"gas":"18O2","laser":"442"},{"w":748,"v":88,"gas":"18O2","laser":"442"},{"w":751,"v":89,"gas":"18O2","laser":"442"},{"w":755,"v":86,"gas":"18O2","laser":"442"},{"w":758,"v":90,"gas":"18O2","laser":"442"},{"w":761,"v":87,"gas":"18O2","laser":"442"},{"w":765,"v":89,"gas":"18O2","laser":"442"},{"w":768,"v":88,"gas":"18O2","laser":"442"},{"w":771,"v":91,"gas":"18O2","laser":"442"},{"w":774,"v":90,"gas":"18O2","laser":"442"},{"w":777,"v":94,"gas":"18O2","laser":"442"},{"w":781,"v":100,"gas":"18O2","laser":"442"},{"w":784,"v":101,"gas":"18O2","laser":"442"},{"w":786,"v":103,"gas":"18O2","laser":"442"},{"w":790,"v":100,"gas":"18O2","laser":"442"},{"w":793,"v":99,"gas":"18O2","laser":"442"},{"w":795,"v":97,"gas":"18O2","laser":"442"},{"w":798,"v":92,"gas":"18O2","laser":"442"},{"w":801,"v":90,"gas":"18O2","laser":"442"},{"w":804,"v":91,"gas":"18O2","laser":"442"},{"w":808,"v":89,"gas":"18O2","laser":"442"},{"w":811,"v":87,"gas":"18O2","laser":"442"},{"w":815,"v":86,"gas":"18O2","laser":"442"},{"w":818,"v":85,"gas":"18O2","laser":"442"},{"w":820,"v":84,"gas":"18O2","laser":"442"},{"w":824,"v":86,"gas":"18O2","laser":"442"},{"w":828,"v":87,"gas":"18O2","laser":"442"},{"w":831,"v":85,"gas":"18O2","laser":"442"},{"w":834,"v":86,"gas":"18O2","laser":"442"},{"w":838,"v":87,"gas":"18O2","laser":"442"},{"w":842,"v":85,"gas":"18O2","laser":"442"},{"w":846,"v":86,"gas":"18O2","laser":"442"},{"w":849,"v":87,"gas":"18O2","laser":"442"},{"w":853,"v":85,"gas":"18O2","laser":"442"},{"w":857,"v":86,"gas":"18O2","laser":"442"},{"w":861,"v":84,"gas":"18O2","laser":"442"},{"w":866,"v":85,"gas":"18O2","laser":"442"},{"w":871,"v":84,"gas":"18O2","laser":"442"},{"w":876,"v":86,"gas":"18O2","laser":"442"},{"w":881,"v":84,"gas":"18O2","laser":"442"},{"w":886,"v":83,"gas":"18O2","laser":"442"},{"w":890,"v":85,"gas":"18O2","laser":"442"},{"w":895,"v":82,"gas":"18O2","laser":"442"},{"w":900,"v":83,"gas":"18O2","laser":"442"},{"w":906,"v":81,"gas":"18O2","laser":"442"},{"w":912,"v":84,"gas":"18O2","laser":"442"},{"w":918,"v":83,"gas":"18O2","laser":"442"},{"w":924,"v":82,"gas":"18O2","laser":"442"},{"w":930,"v":81,"gas":"18O2","laser":"442"},{"w":937,"v":83,"gas":"18O2","laser":"442"},{"w":943,"v":82,"gas":"18O2","laser":"442"},{"w":949,"v":80,"gas":"18O2","laser":"442"},{"w":955,"v":81,"gas":"18O2","laser":"442"},{"w":961,"v":83,"gas":"18O2","laser":"442"},{"w":967,"v":82,"gas":"18O2","laser":"442"},{"w":973,"v":81,"gas":"18O2","laser":"442"},{"w":979,"v":84,"gas":"18O2","laser":"442"},{"w":985,"v":82,"gas":"18O2","laser":"442"},{"w":991,"v":83,"gas":"18O2","laser":"442"},{"w":997,"v":81,"gas":"18O2","laser":"442"},{"w":1003,"v":83,"gas":"18O2","laser":"442"},{"w":1009,"v":82,"gas":"18O2","laser":"442"},{"w":1015,"v":84,"gas":"18O2","laser":"442"},{"w":1022,"v":83,"gas":"18O2","laser":"442"},{"w":1028,"v":85,"gas":"18O2","laser":"442"},{"w":1034,"v":84,"gas":"18O2","laser":"442"},{"w":1040,"v":87,"gas":"18O2","laser":"442"},{"w":1046,"v":86,"gas":"18O2","laser":"442"},{"w":1052,"v":88,"gas":"18O2","laser":"442"},{"w":1058,"v":88,"gas":"18O2","laser":"442"},{"w":1065,"v":89,"gas":"18O2","laser":"442"},{"w":1070,"v":86,"gas":"18O2","laser":"442"},{"w":1076,"v":88,"gas":"18O2","laser":"442"},{"w":1082,"v":87,"gas":"18O2","laser":"442"},{"w":1088,"v":89,"gas":"18O2","laser":"442"},{"w":1094,"v":90,"gas":"18O2","laser":"442"},{"w":1098,"v":89,"gas":"18O2","laser":"442"},{"w":1102,"v":91,"gas":"18O2","laser":"442"},{"w":1107,"v":92,"gas":"18O2","laser":"442"},{"w":1112,"v":93,"gas":"18O2","laser":"442"},{"w":1116,"v":92,"gas":"18O2","laser":"442"},{"w":1119,"v":93,"gas":"18O2","laser":"442"},{"w":1124,"v":95,"gas":"18O2","laser":"442"},{"w":1128,"v":97,"gas":"18O2","laser":"442"},{"w":1132,"v":98,"gas":"18O2","laser":"442"},{"w":1136,"v":99,"gas":"18O2","laser":"442"},{"w":1140,"v":101,"gas":"18O2","laser":"442"},{"w":1144,"v":103,"gas":"18O2","laser":"442"},{"w":1148,"v":102,"gas":"18O2","laser":"442"},{"w":1152,"v":105,"gas":"18O2","laser":"442"},{"w":1156,"v":104,"gas":"18O2","laser":"442"},{"w":1160,"v":106,"gas":"18O2","laser":"442"},{"w":1164,"v":104,"gas":"18O2","laser":"442"},{"w":1168,"v":105,"gas":"18O2","laser":"442"},{"w":1172,"v":103,"gas":"18O2","laser":"442"},{"w":1176,"v":104,"gas":"18O2","laser":"442"},{"w":1179,"v":106,"gas":"18O2","laser":"442"},{"w":1182,"v":108,"gas":"18O2","laser":"442"},{"w":1185,"v":105,"gas":"18O2","laser":"442"},{"w":1188,"v":103,"gas":"18O2","laser":"442"},{"w":1192,"v":104,"gas":"18O2","laser":"442"},{"w":1195,"v":102,"gas":"18O2","laser":"442"},{"w":1199,"v":101,"gas":"18O2","laser":"442"},{"w":1203,"v":100,"gas":"18O2","laser":"442"},
{"w":590,"v":117,"gas":"16O2","laser":"442"},{"w":592,"v":121,"gas":"16O2","laser":"442"},{"w":594,"v":124,"gas":"16O2","laser":"442"},{"w":597,"v":129,"gas":"16O2","laser":"442"},{"w":599,"v":124,"gas":"16O2","laser":"442"},{"w":601,"v":120,"gas":"16O2","laser":"442"},{"w":604,"v":119,"gas":"16O2","laser":"442"},{"w":608,"v":117,"gas":"16O2","laser":"442"},{"w":611,"v":113,"gas":"16O2","laser":"442"},{"w":614,"v":110,"gas":"16O2","laser":"442"},{"w":617,"v":112,"gas":"16O2","laser":"442"},{"w":620,"v":107,"gas":"16O2","laser":"442"},{"w":622,"v":99,"gas":"16O2","laser":"442"},{"w":624,"v":92,"gas":"16O2","laser":"442"},{"w":627,"v":87,"gas":"16O2","laser":"442"},{"w":630,"v":89,"gas":"16O2","laser":"442"},{"w":634,"v":86,"gas":"16O2","laser":"442"},{"w":638,"v":84,"gas":"16O2","laser":"442"},{"w":641,"v":78,"gas":"16O2","laser":"442"},{"w":643,"v":74,"gas":"16O2","laser":"442"},{"w":645,"v":70,"gas":"16O2","laser":"442"},{"w":648,"v":65,"gas":"16O2","laser":"442"},{"w":650,"v":71,"gas":"16O2","laser":"442"},{"w":652,"v":77,"gas":"16O2","laser":"442"},{"w":655,"v":74,"gas":"16O2","laser":"442"},{"w":658,"v":71,"gas":"16O2","laser":"442"},{"w":661,"v":69,"gas":"16O2","laser":"442"},{"w":664,"v":70,"gas":"16O2","laser":"442"},{"w":668,"v":66,"gas":"16O2","laser":"442"},{"w":671,"v":64,"gas":"16O2","laser":"442"},{"w":675,"v":63,"gas":"16O2","laser":"442"},{"w":678,"v":61,"gas":"16O2","laser":"442"},{"w":681,"v":59,"gas":"16O2","laser":"442"},{"w":685,"v":58,"gas":"16O2","laser":"442"},{"w":688,"v":55,"gas":"16O2","laser":"442"},{"w":691,"v":54,"gas":"16O2","laser":"442"},{"w":694,"v":56,"gas":"16O2","laser":"442"},{"w":697,"v":53,"gas":"16O2","laser":"442"},{"w":700,"v":57,"gas":"16O2","laser":"442"},{"w":704,"v":54,"gas":"16O2","laser":"442"},{"w":708,"v":52,"gas":"16O2","laser":"442"},{"w":711,"v":53,"gas":"16O2","laser":"442"},{"w":715,"v":50,"gas":"16O2","laser":"442"},{"w":719,"v":49,"gas":"16O2","laser":"442"},{"w":722,"v":51,"gas":"16O2","laser":"442"},{"w":725,"v":47,"gas":"16O2","laser":"442"},{"w":729,"v":48,"gas":"16O2","laser":"442"},{"w":732,"v":45,"gas":"16O2","laser":"442"},{"w":736,"v":47,"gas":"16O2","laser":"442"},{"w":740,"v":48,"gas":"16O2","laser":"442"},{"w":744,"v":50,"gas":"16O2","laser":"442"},{"w":747,"v":46,"gas":"16O2","laser":"442"},{"w":751,"v":44,"gas":"16O2","laser":"442"},{"w":754,"v":42,"gas":"16O2","laser":"442"},{"w":758,"v":45,"gas":"16O2","laser":"442"},{"w":762,"v":43,"gas":"16O2","laser":"442"},{"w":766,"v":41,"gas":"16O2","laser":"442"},{"w":770,"v":44,"gas":"16O2","laser":"442"},{"w":774,"v":40,"gas":"16O2","laser":"442"},{"w":777,"v":43,"gas":"16O2","laser":"442"},{"w":780,"v":46,"gas":"16O2","laser":"442"},{"w":783,"v":49,"gas":"16O2","laser":"442"},{"w":787,"v":47,"gas":"16O2","laser":"442"},{"w":790,"v":45,"gas":"16O2","laser":"442"},{"w":794,"v":43,"gas":"16O2","laser":"442"},{"w":798,"v":44,"gas":"16O2","laser":"442"},{"w":801,"v":46,"gas":"16O2","laser":"442"},{"w":804,"v":42,"gas":"16O2","laser":"442"},{"w":808,"v":44,"gas":"16O2","laser":"442"},{"w":811,"v":48,"gas":"16O2","laser":"442"},{"w":814,"v":49,"gas":"16O2","laser":"442"},{"w":817,"v":51,"gas":"16O2","laser":"442"},{"w":820,"v":54,"gas":"16O2","laser":"442"},{"w":823,"v":62,"gas":"16O2","laser":"442"},{"w":826,"v":70,"gas":"16O2","laser":"442"},{"w":829,"v":72,"gas":"16O2","laser":"442"},{"w":832,"v":75,"gas":"16O2","laser":"442"},{"w":834,"v":72,"gas":"16O2","laser":"442"},{"w":836,"v":68,"gas":"16O2","laser":"442"},{"w":838,"v":63,"gas":"16O2","laser":"442"},{"w":841,"v":57,"gas":"16O2","laser":"442"},{"w":845,"v":53,"gas":"16O2","laser":"442"},{"w":847,"v":46,"gas":"16O2","laser":"442"},{"w":849,"v":40,"gas":"16O2","laser":"442"},{"w":851,"v":46,"gas":"16O2","laser":"442"},{"w":854,"v":50,"gas":"16O2","laser":"442"},{"w":858,"v":47,"gas":"16O2","laser":"442"},{"w":862,"v":45,"gas":"16O2","laser":"442"},{"w":866,"v":47,"gas":"16O2","laser":"442"},{"w":871,"v":44,"gas":"16O2","laser":"442"},{"w":876,"v":45,"gas":"16O2","laser":"442"},{"w":881,"v":43,"gas":"16O2","laser":"442"},{"w":886,"v":45,"gas":"16O2","laser":"442"},{"w":890,"v":43,"gas":"16O2","laser":"442"},{"w":895,"v":42,"gas":"16O2","laser":"442"},{"w":900,"v":44,"gas":"16O2","laser":"442"},{"w":906,"v":41,"gas":"16O2","laser":"442"},{"w":912,"v":40,"gas":"16O2","laser":"442"},{"w":918,"v":42,"gas":"16O2","laser":"442"},{"w":922,"v":38,"gas":"16O2","laser":"442"},{"w":926,"v":37,"gas":"16O2","laser":"442"},{"w":931,"v":40,"gas":"16O2","laser":"442"},{"w":937,"v":38,"gas":"16O2","laser":"442"},{"w":943,"v":41,"gas":"16O2","laser":"442"},{"w":949,"v":40,"gas":"16O2","laser":"442"},{"w":955,"v":38,"gas":"16O2","laser":"442"},{"w":961,"v":41,"gas":"16O2","laser":"442"},{"w":966,"v":39,"gas":"16O2","laser":"442"},{"w":972,"v":40,"gas":"16O2","laser":"442"},{"w":978,"v":42,"gas":"16O2","laser":"442"},{"w":984,"v":39,"gas":"16O2","laser":"442"},{"w":988,"v":41,"gas":"16O2","laser":"442"},{"w":992,"v":38,"gas":"16O2","laser":"442"},{"w":998,"v":39,"gas":"16O2","laser":"442"},{"w":1004,"v":37,"gas":"16O2","laser":"442"},{"w":1010,"v":38,"gas":"16O2","laser":"442"},{"w":1016,"v":36,"gas":"16O2","laser":"442"},{"w":1022,"v":35,"gas":"16O2","laser":"442"},{"w":1028,"v":38,"gas":"16O2","laser":"442"},{"w":1034,"v":37,"gas":"16O2","laser":"442"},{"w":1040,"v":39,"gas":"16O2","laser":"442"},{"w":1046,"v":40,"gas":"16O2","laser":"442"},{"w":1052,"v":39,"gas":"16O2","laser":"442"},{"w":1058,"v":42,"gas":"16O2","laser":"442"},{"w":1064,"v":44,"gas":"16O2","laser":"442"},{"w":1068,"v":47,"gas":"16O2","laser":"442"},{"w":1070,"v":49,"gas":"16O2","laser":"442"},{"w":1074,"v":46,"gas":"16O2","laser":"442"},{"w":1078,"v":45,"gas":"16O2","laser":"442"},{"w":1082,"v":44,"gas":"16O2","laser":"442"},{"w":1088,"v":43,"gas":"16O2","laser":"442"},{"w":1094,"v":42,"gas":"16O2","laser":"442"},{"w":1100,"v":44,"gas":"16O2","laser":"442"},{"w":1106,"v":47,"gas":"16O2","laser":"442"},{"w":1112,"v":52,"gas":"16O2","laser":"442"},{"w":1116,"v":50,"gas":"16O2","laser":"442"},{"w":1119,"v":47,"gas":"16O2","laser":"442"},{"w":1124,"v":50,"gas":"16O2","laser":"442"},{"w":1128,"v":53,"gas":"16O2","laser":"442"},{"w":1131,"v":55,"gas":"16O2","laser":"442"},{"w":1136,"v":57,"gas":"16O2","laser":"442"},{"w":1140,"v":59,"gas":"16O2","laser":"442"},{"w":1145,"v":60,"gas":"16O2","laser":"442"},{"w":1149,"v":57,"gas":"16O2","laser":"442"},{"w":1152,"v":61,"gas":"16O2","laser":"442"},{"w":1156,"v":60,"gas":"16O2","laser":"442"},{"w":1160,"v":62,"gas":"16O2","laser":"442"},{"w":1163,"v":60,"gas":"16O2","laser":"442"},{"w":1167,"v":63,"gas":"16O2","laser":"442"},{"w":1171,"v":61,"gas":"16O2","laser":"442"},{"w":1175,"v":65,"gas":"16O2","laser":"442"},{"w":1178,"v":62,"gas":"16O2","laser":"442"},{"w":1181,"v":60,"gas":"16O2","laser":"442"},{"w":1184,"v":57,"gas":"16O2","laser":"442"},{"w":1186,"v":61,"gas":"16O2","laser":"442"},{"w":1189,"v":67,"gas":"16O2","laser":"442"},{"w":1192,"v":64,"gas":"16O2","laser":"442"},{"w":1196,"v":63,"gas":"16O2","laser":"442"},{"w":1199,"v":61,"gas":"16O2","laser":"442"},{"w":1203,"v":62,"gas":"16O2","laser":"442"}
    ],
    "peaks": [
      {"w":786,"v":60,"v2":464,"label":"786","lv":471},
      {"w":832,"v":49,"v2":427,"label":"832","lv":439}
    ],
    "lasers": [
      {"w":1206.5,"v":380,"label":"488 nm"},
      {"w":1206.5,"v":230,"label":"457 nm"},
      {"w":1206.5,"v":60,"label":"442 nm"}
    ],
    "sample": [
      {"w":598.6,"v":587,"label":"Nanoparticle"}
    ]
  },
  "resolve": {"axis": {"x": "independent", "y": "independent"}},
  "layer": [
    {
      "data": {"name": "peaks"},
      "mark": {"type": "rule", "strokeDash": [4, 3], "color": "#333333", "strokeWidth": 1},
      "encoding": {
        "x": {"field": "w", "type": "quantitative", "scale": {"domain": [588.5, 1206.5], "nice": false, "zero": false},
              "axis": {"orient": "bottom", "values": [700, 900, 1100], "labels": false, "domain": false, "tickSize": 7, "tickWidth": 2, "tickColor": "black", "title": null}},
        "y": {"field": "v", "type": "quantitative", "scale": {"domain": [0, 628], "nice": false, "zero": false}, "axis": null},
        "y2": {"field": "v2"}
      }
    },
    {
      "data": {"name": "spectra"},
      "mark": {"type": "line", "interpolate": "linear"},
      "encoding": {
        "x": {"field": "w", "type": "quantitative", "scale": {"domain": [588.5, 1206.5], "nice": false, "zero": false},
              "axis": {"orient": "bottom", "values": [600, 800, 1000, 1200], "format": "d", "labelFontSize": 25, "tickSize": 13, "tickWidth": 2, "tickColor": "black", "domainColor": "black", "domainWidth": 2, "labelPadding": 8, "title": "Raman Shift [cm⁻¹]", "titleFontSize": 30, "titlePadding": 22}},
        "y": {"field": "v", "type": "quantitative", "scale": {"domain": [0, 628], "nice": false, "zero": false},
              "axis": {"orient": "left", "labels": false, "ticks": false, "domain": false, "title": "Normalized Intensity", "titleFontSize": 30, "titlePadding": 42}},
        "detail": {"field": "laser"},
        "color": {"field": "gas", "type": "nominal", "scale": {"domain": ["18O2", "16O2"], "range": ["#e8141b", "#000000"]},
                  "legend": {"title": null, "orient": "none", "legendX": 724, "legendY": 2, "symbolType": "stroke", "symbolSize": 3600, "symbolStrokeWidth": 2, "labelFontSize": 25, "labelFont": "Liberation Sans", "labelColor": "black", "labelOffset": 8, "rowPadding": -13, "labelExpr": "datum.value == '18O2' ? '¹⁸O₂' : '¹⁶O₂'"}},
        "strokeWidth": {"field": "gas", "type": "nominal", "scale": {"domain": ["18O2", "16O2"], "range": [1.8, 2.2]}, "legend": null}
      }
    },
    {
      "data": {"name": "peaks"},
      "mark": {"type": "text", "fontSize": 25, "align": "center", "baseline": "alphabetic", "color": "black"},
      "encoding": {
        "x": {"field": "w", "type": "quantitative", "axis": null},
        "y": {"field": "lv", "type": "quantitative", "axis": null},
        "text": {"field": "label"}
      }
    },
    {
      "data": {"name": "lasers"},
      "mark": {"type": "text", "fontSize": 30, "align": "left", "baseline": "alphabetic", "dx": 10, "color": "black"},
      "encoding": {
        "x": {"field": "w", "type": "quantitative", "axis": null},
        "y": {"field": "v", "type": "quantitative", "axis": null},
        "text": {"field": "label"}
      }
    },
    {
      "data": {"name": "sample"},
      "mark": {"type": "text", "fontSize": 30, "align": "left", "baseline": "alphabetic", "color": "black"},
      "encoding": {
        "x": {"field": "w", "type": "quantitative", "axis": null},
        "y": {"field": "v", "type": "quantitative", "axis": null},
        "text": {"field": "label"}
      }
    }
  ]
}
